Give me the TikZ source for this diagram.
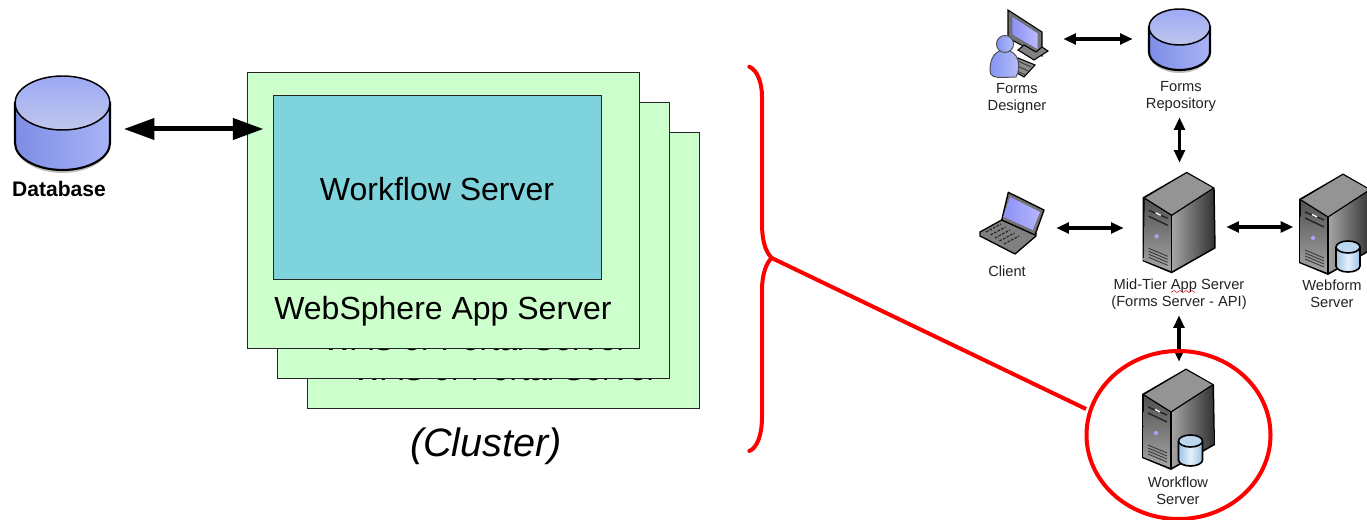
\documentclass[tikz,border=0pt]{standalone}
\usepackage{fontspec}
\setmainfont{Liberation Sans}
\usetikzlibrary{arrows.meta,shapes.geometric}
\definecolor{boxgreen}{HTML}{CCFFCC}
\definecolor{boxteal}{HTML}{7FD3DC}
\definecolor{dbblue}{HTML}{8494F2}
\definecolor{dbtop}{HTML}{B4BCE8}
\definecolor{scr}{HTML}{8C90F8}
\definecolor{txt}{HTML}{222222}
\definecolor{cylside}{HTML}{9CC3E6}
\definecolor{cyllight}{HTML}{E6F1FA}
\definecolor{cyltop}{HTML}{BDD7EE}
\tikzset{
  green box/.style={draw=black!85,line width=.6pt,fill=boxgreen},
  teal box/.style={draw=black!85,line width=.6pt,fill=boxteal},
  big label/.style={font=\fontsize{24}{30}\selectfont,text=black,inner sep=0pt},
  small label/.style={font=\fontsize{11}{12.75}\selectfont,text=txt,align=center,inner sep=0pt},
  big arrow/.style={{Triangle[length=23pt,width=15.5pt]}-{Triangle[length=23pt,width=15.5pt]},line width=3.75pt,black},
  small arrow/.style={{Triangle[length=9.5pt,width=8pt]}-{Triangle[length=9.5pt,width=8pt]},line width=2.4pt,black},
  red line/.style={draw=red,line width=3pt,line cap=round},
  server/.pic={
    \fill[black] (0,-1.5) -- (28,14.5) -- (29,75) -- (-15,100) -- (-44,88) -- (-44,24) -- cycle;
    \shade[top color=black!68,bottom color=black!35] (-42,25) -- (-15,42) -- (-15,98) -- (-43,87) -- cycle;
    \shade[left color=black!35,right color=black!80] (-15,42) -- (26.5,15) -- (27.5,74) -- (-15,98) -- cycle;
    \fill[black!42] (0,0) -- (26.5,15) -- (-15,42) -- (-42,25) -- cycle;
    \draw[black,line width=.9pt,line join=round] (-42,25) -- (-15,42) -- (26.5,15);
    \draw[black,line width=.9pt] (-15,42) -- (-15,98);
    \draw[black!85,line width=1.1pt] (-38,37) -- (-19,45);
    \draw[black!85,line width=1.1pt] (-38,43) -- (-19,52);
    \draw[white,line width=1pt] (-31,39.5) -- (-26,42);
    \fill[blue!35!white,draw=black!50,line width=.3pt] (-30,63) circle (2.4);
    \foreach \d in {0,3,6,9}{\draw[black!80,line width=.6pt] (-38,75+\d) -- (-19,83+\d);}
  },
  minicyl/.pic={
    \shade[left color=cylside,right color=cylside,middle color=cyllight,draw=black,line width=1.2pt]
      (-12,8) -- (-12,26) arc[start angle=180,end angle=0,x radius=12,y radius=6] -- (12,8) -- cycle;
    \fill[cyltop,draw=black,line width=1.2pt] (0,7) ellipse [x radius=12,y radius=6];
  }
}
\newcommand{\cylicon}[5]{% cx, rx, cy top ellipse, ry, cy bottom ellipse
  \fill[black!25] (#1-#2,#5+1) arc[start angle=180,end angle=0,x radius=#2,y radius=#4+2] -- cycle;
  \shade[left color=dbblue!95!black,right color=dbblue!70!white,draw=black,line width=1.6pt]
    (#1-#2,#3) -- (#1-#2,#5) arc[start angle=180,end angle=0,x radius=#2,y radius=#4] -- (#1+#2,#3) -- cycle;
  \shade[top color=dbblue!80!white,bottom color=dbtop!85!white,draw=black,line width=1.1pt]
    (#1,#3) ellipse [x radius=#2,y radius=#4];
}
\begin{document}
\begin{tikzpicture}[x=.75pt,y=-.75pt]
\useasboundingbox (0,0) rectangle (1367,520);
\clip (0,0) rectangle (1367,520);

% Stacked server boxes
\node[green box,minimum width=294pt,minimum height=207pt,inner sep=0pt] (back) at (503,270) {};
\node[big label,anchor=base] (backtxt) at (505,380.5) {WAS or Portal Server};
\node[green box,minimum width=294pt,minimum height=207pt,inner sep=0pt] (mid box) at (473,240) {};
\node[big label,anchor=base] (midtxt) at (475,350.5) {WAS or Portal Server};
\node[green box,minimum width=294pt,minimum height=207pt,inner sep=0pt] (front) at (443,210) {};
\node[teal box,minimum width=246pt,minimum height=138pt,inner sep=0pt] (wfbox) at (437,187) {};
\node[big label] (wftxt) at (437,189) {Workflow Server};
\node[big label] (wstxt) at (443,311) {WebSphere App Server};
\node[big label,font=\fontsize{29.7}{34}\selectfont\itshape] (cluster) at (486,446) {(Cluster)};

% Database
\cylicon{62.5}{47.5}{103}{27}{143}
\node[font=\fontsize{15.8}{18}\selectfont\bfseries,inner sep=0pt,text=black] (dbtxt) at (59,188.5) {Database};
\node[inner sep=0pt,minimum width=71.25pt,minimum height=1pt] (db) at (62.5,129) {};
\draw[big arrow,shorten <=10.1pt,shorten >=6.75pt] (db.east) -- (db.east -| wfbox.west);

% Forms designer
\fill[black!55,draw=black,line width=.8pt] (1008,10) -- (1042,32) -- (1042,56) -- (1008,38) -- cycle;
\shade[left color=scr,right color=scr!60!white,draw=black!60,line width=.5pt] (1012,16) -- (1038,33) -- (1038,50) -- (1012,35) -- cycle;
\fill[black!50,draw=black,line width=.8pt] (1018,50) -- (1034,60) -- (1048,51) -- (1042,47) -- (1036,52) -- (1024,45) -- cycle;
\fill[black!45,draw=black,line width=.8pt] (1018,58) -- (1035,65) -- (1024,77) -- (1012,70) -- cycle;
\foreach \d in {0,3,6}{\draw[black!80,line width=.6pt] (1018-\d,61+\d*1.3) -- (1031-\d,67+\d*1.3);}
\shade[left color=dbblue,right color=dbblue!60!white,draw=black!70,line width=.7pt]
  (1005,50) .. controls (994,50) and (990,60) .. (990,70) .. controls (990,77) and (995,77.5) .. (1003,77.5) -- (1016,77) .. controls (1019,72) and (1019,66) .. (1018,60) .. controls (1016,54) and (1011,50) .. (1005,50) -- cycle;
\shade[left color=dbblue,right color=dbblue!60!white,draw=black!70,line width=.7pt] (1005,44) circle (8.5);
\node[inner sep=0pt,minimum width=56.25pt,minimum height=45pt] (dsg) at (1025.5,39) {};
\node[small label] (dsgtxt) at (1017,98) {Forms\\Designer};

% Forms repository
\cylicon{1179.5}{30.5}{27}{18}{52}
\node[inner sep=0pt,minimum width=69.75pt,minimum height=81pt] (rep) at (1179.5,63) {};
\node[small label] (reptxt) at (1181,96) {Forms\\Repository};

% Client laptop
\fill[black!50,draw=black,line width=1pt,line join=round] (1001.7,220) -- (980,232) -- (980,236) -- (1015,254) -- (1036,236) -- (1036,233) -- cycle;
\foreach \d in {0,3,6,9,12}{\draw[black!85,line width=.9pt,dash pattern=on 2pt off 1pt] (986+\d*1.5,232+\d) -- (1001+\d*1.5,224+\d);}
\fill[black!55,draw=black,line width=1pt,line join=round] (1008.3,192.3) -- (1044,210) -- (1035,235) -- (1001.7,220) -- cycle;
\shade[left color=scr,right color=scr!65!white] (1010,197) -- (1040,212) -- (1032.7,230) -- (1003.3,216.7) -- cycle;
\node[inner sep=0pt,minimum width=60.75pt,minimum height=60pt] (cli) at (1015.5,228) {};
\node[small label] (clitxt) at (1007,271) {Client};

% Mid-tier server
\pic at (1186.7,173.3) {server};
\node[inner sep=0pt,minimum width=76.5pt,minimum height=114pt] (midt) at (1175,239) {};
\node[small label] (midtxt2) at (1179,294) {Mid-Tier App Server\\(Forms Server - API)};
\draw[red!80!black,line width=.4pt] (1171,292.5) -- (1174,290.5) -- (1177,292.5) -- (1180,290.5) -- (1183,292.5) -- (1186,290.5) -- (1189,292.5) -- (1192,290.5) -- (1195,292.5);

% Webform server
\pic at (1343,175) {server};
\pic at (1348,240) {minicyl};
\node[inner sep=0pt,minimum width=50pt,minimum height=78pt] (web) at (1327,227) {};
\node[small label] (webtxt) at (1332,293.5) {Webform\\Server};

% Workflow server
\pic at (1186,370) {server};
\pic at (1190.5,434) {minicyl};
\node[inner sep=0pt,minimum width=60pt,minimum height=75pt] (flow) at (1179,412) {};
\node[small label] (flowtxt) at (1178,490.5) {Workflow\\Server};

% Arrows
\draw[small arrow] (dsg.east) -- (dsg.east -| rep.west);
\draw[small arrow] (rep.south) -- (rep.south |- midt.north);
\draw[small arrow] (cli.east) -- (cli.east -| midt.west);
\draw[small arrow] (midt.east |- web.west) -- (web.west);
\draw[small arrow] (flow.north |- midt.south) -- (flow.north);

% Red brace and ring
\node[ellipse,draw=red,line width=3pt,inner sep=0pt,minimum width=138pt,minimum height=126pt] (ring) at (1178.5,435) {};
\coordinate (tip) at (771.7,258);
\coordinate (braceTop) at (749.3,66.7);
\coordinate (braceBot) at (749.3,451);
\coordinate (ringEnd) at (1086,409);
\draw[red line] (braceTop) .. controls (757,70) and (762,82) .. (762,97) -- (762,223) .. controls (762,240) and (765,251) .. (tip);
\draw[red line] (tip) .. controls (766,263) and (762,275) .. (762,290) -- (762,417) .. controls (762,435) and (757,448) .. (braceBot);
\draw[red line,line cap=butt] (tip) -- (ringEnd);
\end{tikzpicture}
\end{document}
